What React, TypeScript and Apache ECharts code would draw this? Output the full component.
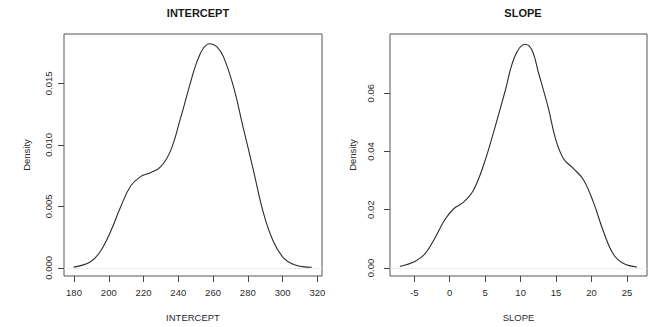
import React, { useEffect, useRef } from "react";
import * as echarts from "echarts";

const interceptX = [179.8, 189.5, 195.2, 201.0, 206.7, 212.5, 218.3, 224.0, 229.8, 235.6, 241.3, 247.3, 250.5, 254.4, 258.2, 262.1, 265.9, 271.6, 277.4, 283.2, 288.9, 294.7, 300.5, 306.2, 311.5, 316.8];
const interceptY = [0.00006, 0.0005, 0.00135, 0.00293, 0.00491, 0.00663, 0.00742, 0.00774, 0.00821, 0.00953, 0.01217, 0.0152, 0.01666, 0.01785, 0.01822, 0.01798, 0.01719, 0.01481, 0.01138, 0.00795, 0.00451, 0.00214, 0.00082, 0.00029, 0.0001, 0.00005];

const slopeX = [-7.04, -4.92, -3.5, -2.1, -0.68, 0.6, 1.9, 3.3, 4.8, 6.36, 7.77, 9.18, 10.64, 11.59, 12.52, 13.93, 14.88, 16.05, 17.46, 18.88, 20.29, 21.7, 23.11, 24.53, 26.42];
const slopeY = [0.0005, 0.0022, 0.0048, 0.0102, 0.0166, 0.0204, 0.0225, 0.0265, 0.0355, 0.0481, 0.0603, 0.0726, 0.0768, 0.0748, 0.067, 0.0547, 0.0447, 0.0375, 0.0341, 0.0302, 0.0224, 0.0124, 0.0046, 0.0015, 0.0003];

const interceptXTicks = [180, 200, 220, 240, 260, 280, 300, 320];
const interceptYTicks = [0, 0.005, 0.01, 0.015];
const slopeXTicks = [-5, 0, 5, 10, 15, 20, 25];
const slopeYTicks = [0, 0.02, 0.04, 0.06];

const FONT = "'Liberation Sans', Arial, Helvetica, sans-serif";
const TXT = "#2a2a2a";

function xAxisCfg(gridIndex: number, min: number, max: number, ticks: number[], name: string) {
  return {
    type: "value",
    gridIndex,
    min,
    max,
    name,
    nameLocation: "middle",
    nameGap: 36,
    nameTextStyle: { fontFamily: FONT, fontSize: 9.5, color: TXT },
    splitLine: { show: false },
    axisLine: { show: false, onZero: false },
    axisTick: { show: true, customValues: ticks, length: 6, inside: false, lineStyle: { color: "#444" } },
    axisLabel: { customValues: ticks, margin: 11, fontFamily: FONT, fontSize: 9.5, color: TXT },
  };
}

function yAxisCfg(gridIndex: number, min: number, max: number, ticks: number[], digits: number, margin: number) {
  return {
    type: "value",
    gridIndex,
    min,
    max,
    name: "Density",
    nameLocation: "middle",
    nameRotate: 90,
    nameGap: 33,
    nameTextStyle: { fontFamily: FONT, fontSize: 9.5, color: TXT },
    splitLine: { show: false },
    axisLine: { show: false, onZero: false },
    axisTick: { show: true, customValues: ticks, length: 6, inside: false, lineStyle: { color: "#444" } },
    axisLabel: {
      customValues: ticks,
      rotate: 90,
      margin,
      fontFamily: FONT,
      fontSize: 9.5,
      color: TXT,
      formatter: (v: number) => v.toFixed(digits),
    },
  };
}

function lineSeries(idx: number, xs: number[], ys: number[]) {
  return {
    type: "line",
    xAxisIndex: idx,
    yAxisIndex: idx,
    data: xs.map((x, i) => [x, ys[i]]),
    showSymbol: false,
    smooth: 0.4,
    lineStyle: { color: "#2b2b2b", width: 1.1 },
    markLine: {
      silent: true,
      symbol: "none",
      label: { show: false },
      lineStyle: { color: "#ececec", width: 1, type: "solid" },
      data: [{ yAxis: 0 }],
    },
  };
}

export default function App() {
  const ref = useRef<HTMLDivElement>(null);
  useEffect(() => {
    if (!ref.current) return;
    const chart = echarts.init(ref.current, undefined, { renderer: "svg" });
    chart.setOption({
      animation: false,
      backgroundColor: "#ffffff",
      title: [
        { text: "INTERCEPT", left: 193, top: 2, textAlign: "center", textStyle: { fontFamily: FONT, fontSize: 11, fontWeight: "bold", color: "#1a1a1a" } },
        { text: "SLOPE", left: 518, top: 2, textAlign: "center", textStyle: { fontFamily: FONT, fontSize: 11, fontWeight: "bold", color: "#1a1a1a" } },
      ],
      grid: [
        { left: 64, right: 339, top: 34, bottom: 45, show: true, borderColor: "#555", borderWidth: 1, backgroundColor: "transparent" },
        { left: 390, right: 14, top: 34, bottom: 45, show: true, borderColor: "#555", borderWidth: 1, backgroundColor: "transparent" },
      ],
      xAxis: [
        xAxisCfg(0, 174.24, 322.7, interceptXTicks, "INTERCEPT"),
        xAxisCfg(1, -8.43, 27.83, slopeXTicks, "SLOPE"),
      ],
      yAxis: [
        yAxisCfg(0, -0.00066, 0.01901, interceptYTicks, 3, 11),
        yAxisCfg(1, -0.00278, 0.0803, slopeYTicks, 2, 15),
      ],
      series: [lineSeries(0, interceptX, interceptY), lineSeries(1, slopeX, slopeY)],
    });
    return () => chart.dispose();
  }, []);
  return <div ref={ref} style={{ position: "fixed", left: 0, top: 0, width: 661, height: 327 }} />;
}
